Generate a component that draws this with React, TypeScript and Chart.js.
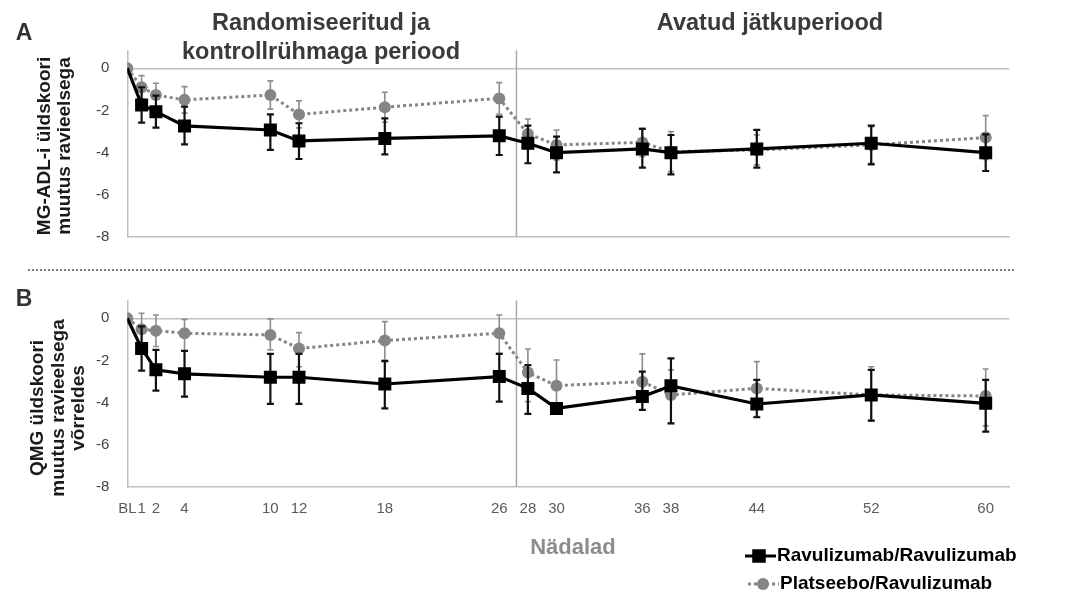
import React, { useEffect, useRef } from "react";
import { Chart, registerables } from "chart.js";
Chart.register(...registerables);

// ---------- data ----------
const weeks = [0, 1, 2, 4, 10, 12, 18, 26, 28, 30, 36, 38, 44, 52, 60];
const weekTickLabels = ["BL", "1", "2", "4", "10", "12", "18", "26", "28", "30", "36", "38", "44", "52", "60"];
const yTicks = [-8, -6, -4, -2, 0];
const periodBoundaryWeek = 27.2;

const seriesNames = ["Ravulizumab/Ravulizumab", "Platseebo/Ravulizumab"];

// Panel A: MG-ADL
const ravA = [0, -1.74, -2.06, -2.74, -2.93, -3.45, -3.33, -3.21, -3.56, -4.01, -3.83, -4.01, -3.83, -3.56, -4.01];
const ravAUp = [0, 0.84, 0.76, 0.92, 0.74, 0.84, 0.95, 0.91, 0.84, 0.76, 0.95, 0.84, 0.9, 0.84, 0.87];
const ravADown = [0, 0.84, 0.76, 0.87, 0.95, 0.86, 0.76, 0.91, 0.95, 0.93, 0.89, 1.03, 0.89, 1.0, 0.87];
const plaA = [0, -0.9, -1.27, -1.5, -1.27, -2.19, -1.85, -1.43, -3.12, -3.64, -3.52, -3.96, -3.88, -3.64, -3.29];
const plaAUp = [0, 0.55, 0.56, 0.63, 0.67, 0.64, 0.71, 0.75, 0.71, 0.71, 0.67, 0.95, 0.71, 0.87, 1.04];
const plaADown = [0, 0.55, 0.56, 0.63, 0.67, 0.64, 0.71, 0.75, 0.71, 0.71, 0.67, 0.95, 0.71, 0.87, 1.04];

// Panel B: QMG
const ravB = [0, -1.43, -2.45, -2.64, -2.8, -2.8, -3.12, -2.77, -3.33, -4.28, -3.72, -3.21, -4.07, -3.64, -4.04];
const ravBUp = [0, 1.05, 0.95, 1.09, 1.11, 1.11, 1.09, 1.08, 1.11, 0.25, 1.19, 1.31, 1.14, 1.19, 1.11];
const ravBDown = [0, 1.06, 0.99, 1.08, 1.27, 1.27, 1.16, 1.19, 1.21, 0.25, 0.63, 1.78, 0.63, 1.22, 1.34];
const plaB = [0, -0.52, -0.59, -0.71, -0.79, -1.43, -1.06, -0.71, -2.58, -3.2, -3.01, -3.64, -3.33, -3.64, -3.69];
const plaBUp = [0, 0.76, 0.75, 0.66, 0.76, 0.75, 0.9, 0.87, 1.12, 1.22, 1.32, 1.19, 1.27, 1.34, 1.28];
const plaBDown = [0, 0.76, 0.75, 0.83, 0.71, 0.87, 0.92, 0.95, 1.38, 1.23, 1.34, 1.35, 1.34, 1.22, 1.42];

// ---------- styles ----------
const ARIAL = "'Liberation Sans', Arial, Helvetica, sans-serif";
const NARROW = "'Liberation Sans Narrow', 'Arial Narrow', 'Liberation Sans', Arial, sans-serif";
const BLACK = "#000000";
const GREY = "#858585";
const AXIS = "#c0c0c0";
const SQ_R = 9.2;
const CIRC_R = 6;

function drawSquare(ctx: CanvasRenderingContext2D, x: number, y: number, side: number, color: string) {
  ctx.fillStyle = color;
  ctx.fillRect(x - side / 2, y - side / 2, side, side);
}

const errorBarPlugin = {
  id: "errorBars",
  beforeDatasetDraw(chart: any, args: any) {
    const ds: any = chart.data.datasets[args.index];
    if (!ds.errUp) return;
    const ctx: CanvasRenderingContext2D = chart.ctx;
    const ys = chart.scales.y;
    ctx.save();
    ctx.strokeStyle = ds.errColor;
    ctx.lineWidth = ds.errWidth;
    args.meta.data.forEach((pt: any, i: number) => {
      const up = ds.errUp[i];
      const dn = ds.errDown[i];
      if (!up && !dn) return;
      const v = ds.data[i].y;
      const x = pt.x;
      const yTop = ys.getPixelForValue(v + up);
      const yBot = ys.getPixelForValue(v - dn);
      const cap = ds.errCap;
      ctx.beginPath();
      ctx.moveTo(x, yTop);
      ctx.lineTo(x, yBot);
      ctx.moveTo(x - cap, yTop);
      ctx.lineTo(x + cap, yTop);
      ctx.moveTo(x - cap, yBot);
      ctx.lineTo(x + cap, yBot);
      ctx.stroke();
    });
    ctx.restore();
  },
};

function separatorLine(chart: any) {
  const ctx: CanvasRenderingContext2D = chart.ctx;
  const x = chart.scales.x.getPixelForValue(periodBoundaryWeek);
  const { top, bottom } = chart.chartArea;
  ctx.save();
  ctx.strokeStyle = "#a8a8a8";
  ctx.lineWidth = 1.5;
  ctx.beginPath();
  ctx.moveTo(x, top);
  ctx.lineTo(x, bottom);
  ctx.stroke();
  ctx.restore();
}

function rotatedLines(ctx: CanvasRenderingContext2D, lines: string[], xs: number[], cy: number, font: string, color: string) {
  ctx.save();
  ctx.font = font;
  ctx.fillStyle = color;
  ctx.textAlign = "center";
  ctx.textBaseline = "middle";
  lines.forEach((l, i) => {
    ctx.save();
    ctx.translate(xs[i], cy);
    ctx.rotate(-Math.PI / 2);
    ctx.fillText(l, 0, 0);
    ctx.restore();
  });
  ctx.restore();
}

const decorA = {
  id: "decorA",
  beforeDatasetsDraw(chart: any) {
    separatorLine(chart);
  },
  afterDraw(chart: any) {
    const ctx: CanvasRenderingContext2D = chart.ctx;
    ctx.save();
    ctx.fillStyle = "#333333";
    ctx.textAlign = "center";
    ctx.textBaseline = "middle";
    ctx.font = `bold 23px ${ARIAL}`;
    ctx.fillText("A", 24, 34);
    ctx.font = `bold 23.5px ${ARIAL}`;
    ctx.fillStyle = "#3a3a3a";
    ctx.fillText("Randomiseeritud ja", 321, 24);
    ctx.fillText("kontrollrühmaga periood", 321, 53);
    ctx.fillText("Avatud jätkuperiood", 770, 24);
    // dotted divider between panels
    ctx.strokeStyle = "#7a7a7a";
    ctx.lineWidth = 2;
    ctx.setLineDash([2, 2]);
    ctx.beginPath();
    ctx.moveTo(28, 270);
    ctx.lineTo(1015, 270);
    ctx.stroke();
    ctx.setLineDash([]);
    ctx.restore();
    rotatedLines(ctx, ["MG-ADL-i üldskoori", "muutus ravieelsega"], [45, 65], 146, `bold 19px ${ARIAL}`, "#1a1a1a");
  },
};

const decorB = {
  id: "decorB",
  beforeDatasetsDraw(chart: any) {
    separatorLine(chart);
  },
  afterDraw(chart: any) {
    const ctx: CanvasRenderingContext2D = chart.ctx;
    ctx.save();
    ctx.fillStyle = "#333333";
    ctx.textAlign = "center";
    ctx.textBaseline = "middle";
    ctx.font = `bold 23px ${ARIAL}`;
    ctx.fillText("B", 24, 300);
    ctx.fillStyle = "#8c8c8c";
    ctx.font = `bold 22px ${NARROW}`;
    ctx.fillText("Nädalad", 573, 548);
    // legend
    ctx.textAlign = "left";
    ctx.fillStyle = "#000";
    ctx.font = `bold 19px ${NARROW}`;
    // row 1
    ctx.strokeStyle = BLACK;
    ctx.lineWidth = 3;
    ctx.beginPath();
    ctx.moveTo(745, 556);
    ctx.lineTo(776, 556);
    ctx.stroke();
    drawSquare(ctx, 759, 556, 13.5, BLACK);
    ctx.fillText(seriesNames[0], 777, 556);
    // row 2
    ctx.strokeStyle = GREY;
    ctx.setLineDash([3, 3]);
    ctx.beginPath();
    ctx.moveTo(748, 584);
    ctx.lineTo(779, 584);
    ctx.stroke();
    ctx.setLineDash([]);
    ctx.fillStyle = GREY;
    ctx.beginPath();
    ctx.arc(763, 584, CIRC_R, 0, Math.PI * 2);
    ctx.fill();
    ctx.fillStyle = "#000";
    ctx.fillText(seriesNames[1], 780, 584);
    ctx.restore();
    rotatedLines(ctx, ["QMG üldskoori", "muutus ravieelsega", "võrreldes"], [38, 59, 79], 408, `bold 19px ${ARIAL}`, "#1a1a1a");
  },
};

function makeDatasets(rav: number[], ravUp: number[], ravDown: number[], pla: number[], plaUp: number[], plaDown: number[]) {
  return [
    {
      label: seriesNames[0],
      data: weeks.map((w, i) => ({ x: w, y: rav[i] })),
      borderColor: BLACK,
      backgroundColor: BLACK,
      borderWidth: 3.2,
      pointStyle: "rect",
      pointRadius: (c: any) => (c.dataIndex === 0 ? 0 : SQ_R),
      pointBorderWidth: 0,
      pointBackgroundColor: BLACK,
      tension: 0,
      errUp: ravUp,
      errDown: ravDown,
      errColor: "#111111",
      errWidth: 2.2,
      errCap: 3.5,
    },
    {
      label: seriesNames[1],
      data: weeks.map((w, i) => ({ x: w, y: pla[i] })),
      borderColor: GREY,
      backgroundColor: GREY,
      borderWidth: 3,
      borderDash: [3, 3],
      pointStyle: "circle",
      pointRadius: CIRC_R,
      pointBorderWidth: 0,
      pointBackgroundColor: GREY,
      tension: 0,
      errUp: plaUp,
      errDown: plaDown,
      errColor: "#8e8e8e",
      errWidth: 1.6,
      errCap: 3,
    },
  ];
}

function makeOptions(padTop: number, padBottom: number, showX: boolean) {
  return {
    responsive: false,
    animation: false,
    events: [],
    layout: { padding: { left: 0, right: 58.7, top: padTop, bottom: padBottom } },
    plugins: { legend: { display: false }, tooltip: { enabled: false } },
    scales: {
      x: {
        type: "linear",
        min: 0,
        max: 61.65,
        afterBuildTicks: (s: any) => {
          s.ticks = weeks.map((v) => ({ value: v }));
        },
        afterFit: (s: any) => {
          s.height = showX ? 40 : 0;
        },
        grid: { display: false, drawTicks: false },
        border: { display: true, color: AXIS, width: 1.5 },
        ticks: {
          display: showX,
          autoSkip: false,
          maxRotation: 0,
          minRotation: 0,
          padding: 13,
          color: "#5a5a5a",
          font: { family: NARROW, size: 15 },
          callback: (v: any) => {
            const i = weeks.indexOf(Number(v));
            return i >= 0 ? weekTickLabels[i] : "";
          },
        },
      },
      y: {
        type: "linear",
        min: -8,
        max: 0.85,
        afterBuildTicks: (s: any) => {
          s.ticks = yTicks.map((v) => ({ value: v }));
        },
        afterFit: (s: any) => {
          s.width = 127.3;
        },
        grid: {
          drawTicks: false,
          lineWidth: 1.5,
          color: (c: any) => (c.tick && c.tick.value === 0 ? AXIS : "rgba(0,0,0,0)"),
        },
        border: { display: true, color: AXIS, width: 1.5 },
        ticks: {
          padding: 18,
          color: "#404040",
          font: { family: ARIAL, size: 15 },
          callback: (v: any) => String(v),
        },
      },
    },
  };
}

export default function App() {
  const refA = useRef<HTMLCanvasElement>(null);
  const refB = useRef<HTMLCanvasElement>(null);

  useEffect(() => {
    const chartA = new Chart(refA.current as HTMLCanvasElement, {
      type: "line",
      data: { datasets: makeDatasets(ravA, ravAUp, ravADown, plaA, plaAUp, plaADown) as any },
      options: makeOptions(50.4, 596 - 236.7, false) as any,
      plugins: [errorBarPlugin, decorA],
    });
    const chartB = new Chart(refB.current as HTMLCanvasElement, {
      type: "line",
      data: { datasets: makeDatasets(ravB, ravBUp, ravBDown, plaB, plaBUp, plaBDown) as any },
      options: makeOptions(300.4, 596 - 486.7 - 40, true) as any,
      plugins: [errorBarPlugin, decorB],
    });
    return () => {
      chartA.destroy();
      chartB.destroy();
    };
  }, []);

  return (
    <div style={{ position: "fixed", left: 0, top: 0, width: 1068, height: 596, background: "#ffffff" }}>
      <canvas ref={refA} width={1068} height={596} style={{ position: "absolute", left: 0, top: 0 }} />
      <canvas ref={refB} width={1068} height={596} style={{ position: "absolute", left: 0, top: 0 }} />
    </div>
  );
}
